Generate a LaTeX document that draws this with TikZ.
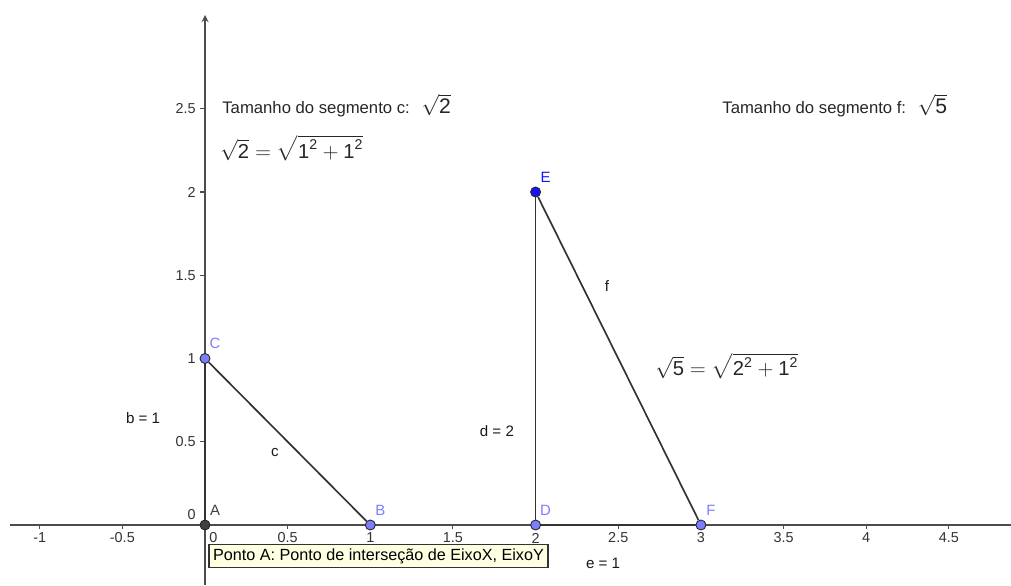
\documentclass[tikz,border=0pt]{standalone}
\usepackage{amsmath}
\usepackage{fontspec}
\setmainfont{Liberation Sans}
\usetikzlibrary{arrows, positioning}

\definecolor{ptlight}{RGB}{125,125,255}
\definecolor{ptblue}{RGB}{20,20,255}
\definecolor{ptgray}{RGB}{64,64,64}
\definecolor{tipbg}{RGB}{255,255,225}

% digits in the formulas set in the text font
\newcommand{\dg}[1]{\text{#1}}

\begin{document}
\begin{tikzpicture}[
  x=3.306cm, y=3.33cm,
  axis/.style={draw=black!70, line width=0.8pt},
  tickmark/.style={draw=black!70, line width=0.6pt},
  ticklbl/.style={font=\fontsize{8.2}{9}\selectfont, text=black!80, inner sep=0pt},
  seg/.style={draw=black!80, line width=0.95pt},
  pt/.style={circle, draw=black!85, line width=0.5pt, inner sep=0pt, minimum size=5.7pt},
  ptlbl/.style={font=\fontsize{8.5}{10}\selectfont, inner sep=0pt, xshift=5.7pt, yshift=8.5pt},
  seglbl/.style={font=\fontsize{8.6}{10}\selectfont, text=black!90, inner sep=0pt},
  txt/.style={font=\fontsize{9.5}{11}\selectfont, text=black!85, anchor=west, inner sep=0pt},
  formula/.style={font=\fontsize{11.5}{13}\selectfont, text=black!85, anchor=west, inner sep=0pt},
  tip/.style={draw=black!80, fill=tipbg, line width=0.6pt, font=\fontsize{9.2}{11}\selectfont,
              minimum width=6.78cm, minimum height=0.46cm, inner sep=1pt}
]
\useasboundingbox (-1.2402,-0.3604) rectangle (4.8760,3.1532);

% Axes
\coordinate (xl) at (-1.18,0);
\coordinate (xr) at (4.876,0);
\coordinate (yb) at (0,-0.3604);
\coordinate (yt) at (0,3.063);
\draw[axis] (xl) -- (xr);
\draw[axis, ->, >=stealth] (yb) -- (yt);

% Ticks and their numbers
\foreach \t/\s [count=\i] in {-1/-1, -0.5/-0.5, 0.5/0.5, 1/1, 1.5/1.5, 2/2, 2.5/2.5, 3/3, 3.5/3.5, 4/4, 4.5/4.5} {
  \draw[tickmark] (\t,0) -- (\t,-0.024);
  \node[ticklbl] (xt\i) at (\t,-0.078) {\s};
}
\node[ticklbl] (xt0) at (0.05,-0.078) {0};
\foreach \t [count=\i] in {0.5, 1, 1.5, 2, 2.5} {
  \draw[tickmark] (0,\t) -- (-0.03,\t);
  \node[ticklbl, anchor=east] (yt\i) at (-0.054,\t) {\t};
}
\node[ticklbl, anchor=east] (yt0) at (-0.054,0.06) {0};

% Points
\node[pt, fill=ptgray]  (A) at (0,0) {};
\node[pt, fill=ptlight] (B) at (1,0) {};
\node[pt, fill=ptlight] (C) at (0,1) {};
\node[pt, fill=ptlight] (D) at (2,0) {};
\node[pt, fill=ptblue]  (E) at (2,2) {};
\node[pt, fill=ptlight] (F) at (3,0) {};

% Segments
\draw[seg] (A) -- (C);
\draw[seg] (C) -- (B);
\draw[seg] (D) -- (E);
\draw[seg] (E) -- (F);
\draw[seg] (D) -- (F);

% Point names
\node[ptlbl, text=ptgray]  (lA) at (A) {A};
\node[ptlbl, text=ptlight] (lB) at (B) {B};
\node[ptlbl, text=ptlight] (lC) at (C) {C};
\node[ptlbl, text=ptlight] (lD) at (D) {D};
\node[ptlbl, text=ptblue]  (lE) at (E) {E};
\node[ptlbl, text=ptlight] (lF) at (F) {F};

% Segment names and lengths
\node[seglbl] (lc) at (0.4235,0.438) {c};
\node[seglbl] (lf) at (2.432,1.435) {f};
\node[seglbl] (lb) at (-0.375,0.643) {b = 1};
\node[seglbl] (ld) at (1.766,0.565) {d = 2};
\node[seglbl] (le) at (2.408,-0.228) {e = 1};

% Texts
\node[txt] (tc) at (0.103,2.52) {Tamanho do segmento c:\hspace{0.7em}{\fontsize{12}{14}\selectfont$\sqrt{\dg{2}}$}};
\node[formula] (fc) at (0.091,2.262) {$\sqrt{\dg{2}}=\sqrt{\dg{1}^{\scriptstyle\dg{2}}+\dg{1}^{\scriptstyle\dg{2}}}$};
\node[txt] (tf) at (3.128,2.52) {Tamanho do segmento f:\hspace{0.7em}{\fontsize{12}{14}\selectfont$\sqrt{\dg{5}}$}};
\node[formula] (ff) at (2.722,0.955) {$\sqrt{\dg{5}}=\sqrt{\dg{2}^{\scriptstyle\dg{2}}+\dg{1}^{\scriptstyle\dg{2}}}$};

% Tooltip
\node[tip] (tipA) at (1.0496,-0.189) {Ponto A: Ponto de interseção de EixoX, EixoY};
\end{tikzpicture}
\end{document}
